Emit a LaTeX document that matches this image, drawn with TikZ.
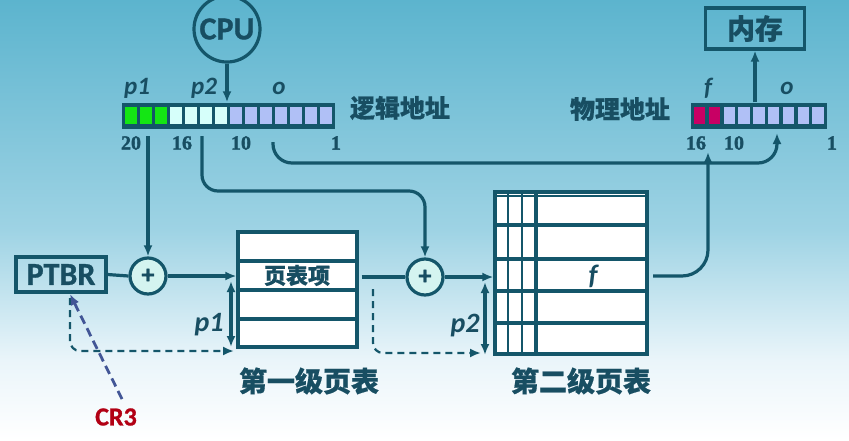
\documentclass[tikz,border=0pt]{standalone}
\usepackage{fontspec}
\setmainfont{Liberation Serif}
\newfontfamily\numf{Liberation Serif}[UprightFont={* Bold}, FakeBold=1.6]
\newfontfamily\cjk{Noto Sans CJK SC}[BoldFeatures={FakeBold=0.6}]
\newfontfamily\lsans{Carlito}[BoldFeatures={FakeBold=1.0}]
\usetikzlibrary{arrows.meta,calc}
\definecolor{ink}{RGB}{24,78,98}
\definecolor{ln}{RGB}{20,86,106}
\definecolor{bga}{RGB}{92,180,206}
\definecolor{bgb}{RGB}{158,211,228}
\definecolor{bgc}{RGB}{234,245,250}
\definecolor{gr}{RGB}{20,230,20}
\definecolor{cy}{RGB}{214,255,250}
\definecolor{lv}{RGB}{176,192,246}
\definecolor{mg}{RGB}{200,0,100}
\definecolor{plusfill}{RGB}{212,244,240}
\definecolor{crred}{RGB}{178,0,20}
\definecolor{crblue}{RGB}{66,86,150}
\newcommand\fsz[1]{\fontsize{#1}{#1}\selectfont}
\tikzset{
  conn/.style={draw=ln, line width=3.2pt},
  arr/.style={-{Latex[length=11pt,width=9pt]}},
  darr/.style={{Latex[length=11pt,width=9pt]}-{Latex[length=11pt,width=9pt]}},
  dsh/.style={draw=ln, line width=2.2pt, dash pattern=on 7pt off 5pt},
  plusnode/.style={circle, draw=ln, fill=plusfill, line width=3.2pt, minimum size=36pt, inner sep=0pt, text=ink, font=\lsans\bfseries\fsz{26}},
  tbl/.style={draw=ln, fill=white, line width=3.2pt, inner sep=0pt},
  txt/.style={text=ink, inner sep=0pt},
  cjkl/.style={txt, font=\cjk\bfseries\fsz{25}},
  num/.style={txt, font=\numf\fsz{20}},
  var/.style={txt, font=\lsans\bfseries\itshape\fsz{25}},
}
\begin{document}
\begin{tikzpicture}[x=1pt,y=-1pt]
\useasboundingbox (0,0) rectangle (849,440);
% background
\shade[top color=bga, bottom color=bgb] (0,0) rectangle (849,230);
\shade[top color=bgb, bottom color=bgc] (0,230) rectangle (849,360);
\shade[top color=bgc, bottom color=white] (0,360) rectangle (849,440);

% CPU
\node[circle, draw=ln, line width=3.2pt, minimum size=66pt, inner sep=0pt, text=ink, font=\lsans\bfseries\fsz{32}] (cpu) at (227,29) {CPU};

% logical address bar
\node[fill=ln, minimum width=213pt, minimum height=26pt, inner sep=0pt] (lbar) at (228,115.5) {};
\foreach \i in {0,...,13}{
  \ifnum\i<3 \def\cc{gr}\else\ifnum\i<7 \def\cc{cy}\else\def\cc{lv}\fi\fi
  \fill[\cc] ({125+15*\i},107) rectangle ({136.5+15*\i},124);
}
\node[var] (lp1) at (137,88) {p1};
\node[var] (lp2) at (204,88) {p2};
\node[var] (lo) at (279,88) {o};
\node[cjkl] (ladr) at (400,108) {逻辑地址};
\node[num] (n20) at (131,143) {20};
\node[num] (n16) at (182,143) {16};
\node[num] (n10) at (241,143) {10};
\node[num] (n1) at (336,143) {1};

% physical address bar
\node[fill=ln, minimum width=136pt, minimum height=26pt, inner sep=0pt] (pbar) at (758.5,115.5) {};
\foreach \i in {0,...,8}{
  \ifnum\i<2 \def\cc{mg}\else\def\cc{lv}\fi
  \fill[\cc] ({694+14.8*\i},107) rectangle ({705.3+14.8*\i},124);
}
\node[var] (pf) at (708,88) {f};
\node[var] (po) at (787,88) {o};
\node[cjkl] (padr) at (620,109) {物理地址};
\node[num] (m16) at (696,143) {16};
\node[num] (m10) at (734,143) {10};
\node[num] (m1) at (832,143) {1};

% memory
\node[draw=ln, line width=3.2pt, minimum width=99pt, minimum height=41pt, inner sep=0pt, text=ink, font=\cjk\bfseries\fsz{28}] (mem) at (755,28.5) {内存};

% PTBR and adders
\node[draw=ln, line width=3.2pt, minimum width=90pt, minimum height=35pt, inner sep=0pt, text=ink, font=\lsans\bfseries\fsz{32}] (ptbr) at (61,274.5) {PTBR};
\node[plusnode] (plus1) at (148,276) {+};
\node[plusnode] (plus2) at (425,277) {+};

% first-level table
\node[tbl, minimum width=119pt, minimum height=115pt] (t1) at (297.5,289.5) {};
\foreach \y in {261,290,319}{
  \draw[ln, line width=3.2pt] (t1.west |- 0,\y) -- (t1.east |- 0,\y);
}
\node[txt, font=\cjk\bfseries\fsz{22}] (pte) at (297,275.5) {页表项};
\node[txt, font=\cjk\bfseries\fsz{28}] (t1lab) at (309,381) {第一级页表};

% second-level table
\node[tbl, minimum width=152pt, minimum height=162pt] (t2) at (571,273) {};
\foreach \y in {225,259,291,323}{
  \draw[ln, line width=3.2pt] (t2.west |- 0,\y) -- (t2.east |- 0,\y);
}
\draw[ln, line width=1.4pt] (t2.west |- 0,196) -- (t2.east |- 0,196);
\foreach \x in {508,522}{
  \draw[ln, line width=1.8pt] (\x,0 |- t2.north) -- (\x,0 |- t2.south);
}
\draw[ln, line width=3.8pt] (536,0 |- t2.north) -- (536,0 |- t2.south);
\node[txt, font=\lsans\bfseries\itshape\fsz{28}] (fent) at (593,276) {f};
\node[txt, font=\cjk\bfseries\fsz{28}] (t2lab) at (581,381) {第二级页表};

% CR3
\node[txt, text=crred, font=\lsans\bfseries\fsz{26}] (cr3) at (116,417) {CR3};

% coordinates
\coordinate (b20) at (148,136);
\coordinate (b16) at (202,136);
\coordinate (b10) at (273,142);
\coordinate (k16) at (425,191);
\coordinate (k10) at (777,163);
\coordinate (q10) at (777,133);
\coordinate (tf) at (653,276);
\coordinate (qf) at (708,152);
\coordinate (p1t) at (231,281);
\coordinate (p1b) at (231,347);
\coordinate (p2t) at (485,282);
\coordinate (p2b) at (485,355);
\coordinate (d1s) at (70,298);
\coordinate (d1e) at (234,351);
\coordinate (d2s) at (373,289);
\coordinate (d2e) at (481,353);
\coordinate (crs) at (122,399);
\coordinate (cre) at (70,294);

% connectors
\draw[conn,arr] (cpu.south) -- (cpu.south |- lbar.north);
\draw[conn,arr] (b20) -- (plus1.north);
\draw[conn,arr,rounded corners=16pt] (b16) |- (k16) -- (plus2.north);
\draw[conn,arr,rounded corners=19pt] (b10) |- (k10) -- (q10);
\draw[conn,arr,rounded corners=26pt] (tf) -| (qf);
\draw[conn,arr] (mem.south |- pbar.north) -- (mem.south);
\draw[conn] (ptbr.east) -- (plus1.west);
\draw[conn,arr] (plus1.east) -- (plus1.east -| t1.west);
\draw[conn] ($(t1.east |- plus2)+(3,0)$) -- (plus2.west);
\draw[conn,arr] (plus2.east) -- (plus2.east -| t2.west);
\draw[conn,darr] (p1t) -- (p1b);
\draw[conn,darr] (p2t) -- (p2b);
\node[var, font=\lsans\bfseries\itshape\fsz{28}] (lbp1) at (209,325) {p1};
\node[var, font=\lsans\bfseries\itshape\fsz{28}] (lbp2) at (465,326) {p2};
\draw[dsh,arr,rounded corners=10pt] (d1s) |- (d1e);
\draw[dsh,arr,rounded corners=10pt] (d2s) |- (d2e);
\draw[draw=crblue, line width=2.8pt, dash pattern=on 9pt off 5pt, arr] (crs) -- (cre);
\end{tikzpicture}
\end{document}
